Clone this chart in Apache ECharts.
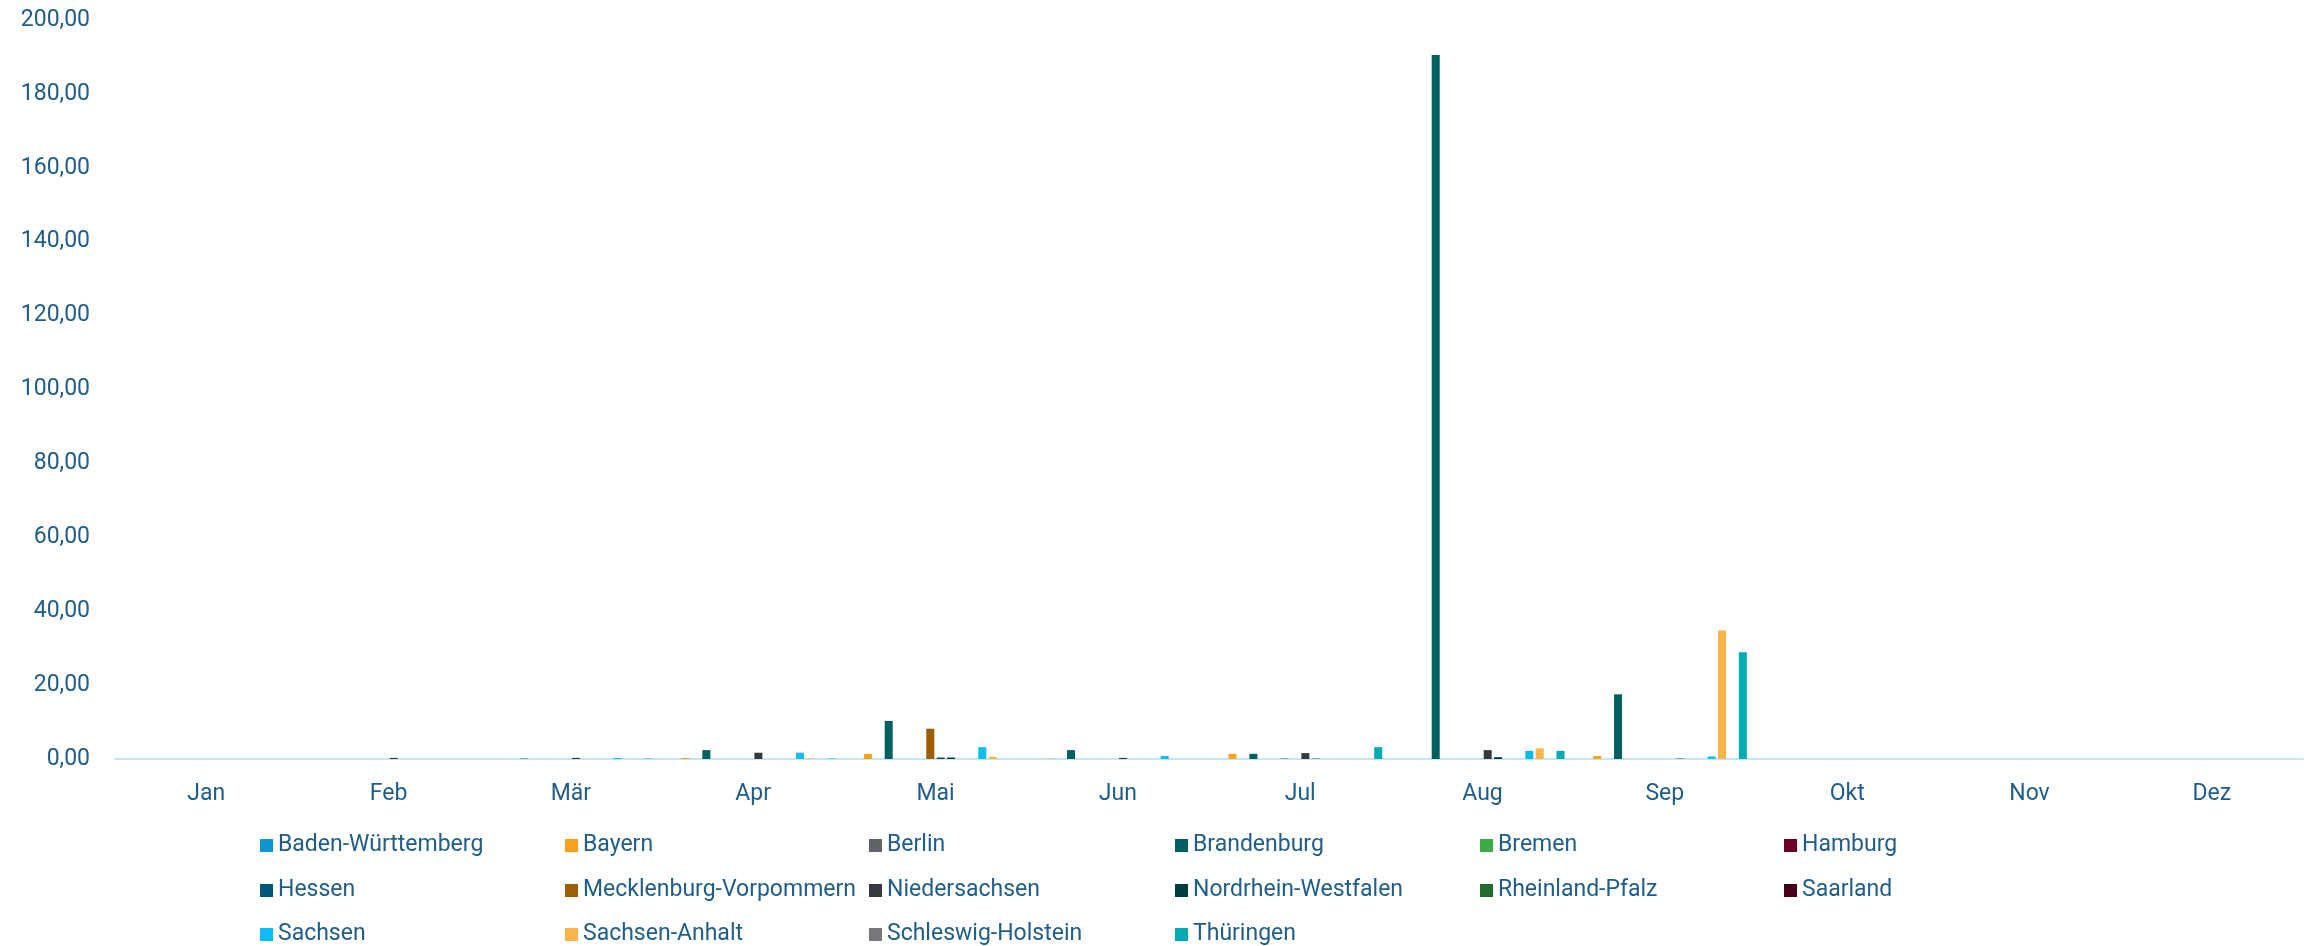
<!DOCTYPE html>
<html>
<head>
<meta charset="utf-8">
<script src="https://cdn.jsdelivr.net/npm/echarts@6/dist/echarts.min.js"></script>
<style>
  html, body { margin: 0; padding: 0; background: #fff; }
  #chart { width: 2318px; height: 946px; }
</style>
</head>
<body>
<div id="chart"></div>
<script>
const months = ['Jan', 'Feb', 'Mär', 'Apr', 'Mai', 'Jun', 'Jul', 'Aug', 'Sep', 'Okt', 'Nov', 'Dez']

const states = [
  'Baden-Württemberg', 'Bayern', 'Berlin', 'Brandenburg', 'Bremen', 'Hamburg',
  'Hessen', 'Mecklenburg-Vorpommern', 'Niedersachsen', 'Nordrhein-Westfalen', 'Rheinland-Pfalz', 'Saarland',
  'Sachsen', 'Sachsen-Anhalt', 'Schleswig-Holstein', 'Thüringen'
]

const colors = [
  '#0a96d4', '#f7a21b', '#606368', '#005f61', '#3bab47', '#6d0023',
  '#005878', '#9c5e00', '#36393d', '#003b3e', '#236b30', '#450018',
  '#0dbcf5', '#fbb448', '#76787c', '#00abb4'
]

// Werte je Bundesland, Jan..Dez
const badenWuerttemberg = [0, 0, 0, 0, 0, 0, 0, 0, 0, 0, 0, 0]
const bayern = [0, 0, 0, 0.3, 1.4, 0.1, 1.4, 0, 0.8, 0, 0, 0]
const berlin = [0, 0, 0, 0, 0, 0, 0, 0, 0, 0, 0, 0]
const brandenburg = [0, 0, 0.1, 2.4, 10.3, 2.4, 1.4, 190.5, 17.5, 0, 0, 0]
const bremen = [0, 0, 0, 0, 0, 0, 0, 0, 0, 0, 0, 0]
const hamburg = [0, 0, 0, 0, 0, 0, 0, 0, 0, 0, 0, 0]
const hessen = [0, 0, 0, 0, 0, 0, 0.1, 0, 0, 0, 0, 0]
const mecklenburgVorpommern = [0, 0, 0, 0, 8.2, 0, 0, 0, 0, 0, 0, 0]
const niedersachsen = [0, 0.3, 0.3, 1.7, 0.4, 0.3, 1.6, 2.4, 0, 0, 0, 0]
const nordrheinWestfalen = [0, 0, 0, 0, 0.4, 0, 0.1, 0.5, 0.1, 0, 0, 0]
const rheinlandPfalz = [0, 0, 0, 0, 0, 0, 0, 0, 0, 0, 0, 0]
const saarland = [0, 0, 0, 0, 0, 0, 0, 0, 0, 0, 0, 0]
const sachsen = [0, 0, 0.3, 1.7, 3.2, 0.8, 0, 2.2, 0.7, 0, 0, 0]
const sachsenAnhalt = [0, 0, 0, 0.2, 0.6, 0, 0, 2.9, 34.8, 0, 0, 0]
const schleswigHolstein = [0, 0, 0, 0, 0, 0, 0, 0, 0, 0, 0, 0]
const thueringen = [0, 0, 0.1, 0.1, 0, 0, 3.2, 2.2, 28.9, 0, 0, 0]

const values = [
  badenWuerttemberg, bayern, berlin, brandenburg, bremen, hamburg,
  hessen, mecklenburgVorpommern, niedersachsen, nordrheinWestfalen, rheinlandPfalz, saarland,
  sachsen, sachsenAnhalt, schleswigHolstein, thueringen
]

const yMin = 0
const yMax = 200
const yStep = 20

const textColor = '#1f5d8c'
const fontFamily = 'Roboto, "Noto Sans", sans-serif'

// Legende: 6 Spalten x 3 Zeilen, ein Eintrag je Legende
const legendLeft = [260, 565, 869, 1175, 1480, 1784]
const legendTop = [834, 879, 923]
const legends = states.map((name, i) => ({
  left: legendLeft[i % 6],
  top: legendTop[Math.floor(i / 6)],
  itemWidth: 13,
  itemHeight: 13,
  selectedMode: false,
  icon: 'rect',
  padding: 0,
  textStyle: { color: textColor, fontSize: 23, fontFamily: fontFamily },
  data: [name]
}))

const myChart = echarts.init(document.getElementById('chart'))
myChart.setOption({
  animation: false,
  color: colors,
  grid: { left: 115, right: 15, top: 20, bottom: 187 },
  legend: legends,
  xAxis: {
    type: 'category',
    data: months,
    axisLine: { lineStyle: { color: '#c6e5f7', width: 2 } },
    axisTick: { show: false },
    axisLabel: { color: textColor, fontSize: 23, fontFamily: fontFamily, margin: 24 }
  },
  yAxis: {
    type: 'value',
    min: yMin,
    max: yMax,
    interval: yStep,
    axisLine: { show: false },
    axisTick: { show: false },
    splitLine: { show: false },
    axisLabel: {
      color: textColor,
      fontSize: 23,
      fontFamily: fontFamily,
      margin: 25,
      formatter: v => v.toFixed(2).replace('.', ',')
    }
  },
  series: states.map((name, i) => ({
    name: name,
    type: 'bar',
    data: values[i],
    barWidth: 8,
    barGap: '30%'
  }))
})
</script>
</body>
</html>
